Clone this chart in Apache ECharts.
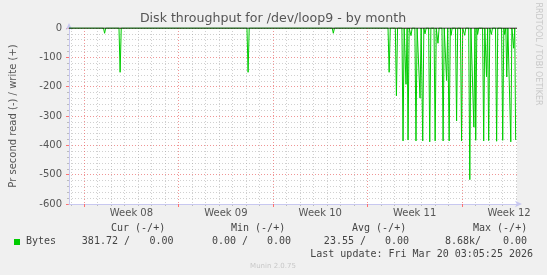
<!DOCTYPE html>
<html><head><meta charset="utf-8">
<script src="https://cdn.jsdelivr.net/npm/echarts@6/dist/echarts.min.js"></script>
<style>html,body{margin:0;padding:0;background:#f0f0f0}#c{width:547px;height:275px}</style>
</head><body><div id="c"></div>
<script>
// ---- chart data (x in days relative to Mon Feb 16 2026 00:00) ----
const titleText = 'Disk throughput for /dev/loop9 - by month';
const yAxisName = 'Pr second read (-) / write (+)';
const watermark = 'RRDTOOL / TOBI OETIKER';
const xMinDay = -1.13;
const xMaxDay = 32.09;
const weekStarts = [0, 7, 14, 21, 28];
const weekLabelPos = [3.5, 10.5, 17.5, 24.5, 31.5];
const weekNames = ['Week 08', 'Week 09', 'Week 10', 'Week 11', 'Week 12'];
const dayLines = [-1, 1, 2, 3, 4, 5, 6, 8, 9, 10, 11, 12, 13, 15, 16, 17, 18, 19, 20, 22, 23, 24, 25, 26, 27, 29, 30, 31, 32];
const yMin = -600, yMax = 0, yStep = 100;
const sampleDays = 2 / 24; // 2-hour resolution
const spikeDays = [1.51, 2.66, 12.15, 18.47, 22.61, 23.15, 23.64, 23.86, 24.01, 24.23, 24.60, 24.90, 25.10, 25.27,
  25.62, 26.02, 26.23, 26.61, 26.87, 27.06, 27.20, 27.61, 27.98, 28.21, 28.59, 28.89, 29.03, 29.17,
  29.62, 29.83, 29.99, 30.19, 30.58, 31.03, 31.18, 31.33, 31.63, 31.84, 31.99];
const spikeValues = [-18, -151, -151, -18, -151, -231, -385, -192, -382, -26, -385, -239, -385, -20,
  -388, -385, -52, -385, -179, -385, -25, -317, -385, -25, -517, -338, -383, -22,
  -385, -166, -384, -22, -386, -383, -22, -167, -388, -69, -381.72];
const legendHeaders = ['Cur (-/+)', 'Min (-/+)', 'Avg (-/+)', 'Max (-/+)'];
const legendName = 'Bytes';
const legendRead = ['381.72 /', '0.00 /', '23.55 /', '8.68k/'];
const legendWrite = ['0.00', '0.00', '0.00', '0.00'];
const lastUpdate = 'Last update: Fri Mar 20 03:05:25 2026';
const version = 'Munin 2.0.75';

// ---- build series data ----
const readData = [[xMinDay, 0]];
spikeDays.forEach((d, i) => {
  readData.push([d - sampleDays, 0]);
  readData.push([d, spikeValues[i]]);
  if (i < spikeDays.length - 1) readData.push([d + sampleDays, 0]);
});
const zeroData = [[xMinDay, 0], [xMaxDay, 0]];

const axisFont = 'DejaVu Sans';
const mono = '"DejaVu Sans Mono", monospace';
const gridLeft = 67, gridTop = 28, gridRight = 30, gridBottom = 71;

const headerX = [111, 231, 352, 473];
const readRight = [130, 248, 366, 481];
const writeRight = [173.5, 291, 409, 527];
const graphics = [
  { type: 'text', x: 273, y: 19, style: { text: titleText, fill: '#555', font: '12.6px "DejaVu Sans"', textAlign: 'center', textVerticalAlign: 'middle', verticalAlign: 'middle' } },
  { type: 'text', x: 538, y: 54, rotation: -Math.PI / 2, style: { text: watermark, fill: '#c8c8c8', font: '8px "DejaVu Sans"', textAlign: 'center', textVerticalAlign: 'middle', verticalAlign: 'middle' } },
  { type: 'rect', shape: { x: 14, y: 239, width: 6, height: 6 }, style: { fill: '#00cc00' } },
  { type: 'text', x: 26, y: 241.5, style: { text: legendName, fill: '#444', font: '10px ' + mono, textAlign: 'left', textVerticalAlign: 'middle', verticalAlign: 'middle' } },
  { type: 'text', x: 533, y: 254, style: { text: lastUpdate, fill: '#444', font: '10px ' + mono, textAlign: 'right', textVerticalAlign: 'middle', verticalAlign: 'middle' } },
  { type: 'text', x: 273, y: 266.5, style: { text: version, fill: '#c8c8c8', font: '7px "DejaVu Sans"', textAlign: 'center', textVerticalAlign: 'middle', verticalAlign: 'middle' } }
];
legendHeaders.forEach((h, i) => {
  graphics.push({ type: 'text', x: headerX[i], y: 228, style: { text: h, fill: '#444', font: '10px ' + mono, textAlign: 'left', textVerticalAlign: 'middle', verticalAlign: 'middle' } });
  graphics.push({ type: 'text', x: readRight[i], y: 241.5, style: { text: legendRead[i], fill: '#444', font: '10px ' + mono, textAlign: 'right', textVerticalAlign: 'middle', verticalAlign: 'middle' } });
  graphics.push({ type: 'text', x: writeRight[i], y: 241.5, style: { text: legendWrite[i], fill: '#444', font: '10px ' + mono, textAlign: 'right', textVerticalAlign: 'middle', verticalAlign: 'middle' } });
});

const chart = echarts.init(document.getElementById('c'), null, { renderer: 'canvas' });
chart.setOption({
  backgroundColor: '#f0f0f0',
  animation: false,
  grid: { left: gridLeft, top: gridTop, right: gridRight, bottom: gridBottom, show: true, backgroundColor: '#ffffff', borderWidth: 0 },
  xAxis: [
    {
      type: 'value', min: xMinDay, max: xMaxDay, position: 'bottom', z: 3,
      axisLine: { show: true, onZero: false, lineStyle: { color: '#c8c8f0', width: 1 }, symbol: ['none', 'arrow'], symbolSize: [5, 7], symbolOffset: [0, 5] },
      axisTick: { show: true, customValues: weekStarts, length: 3, lineStyle: { color: '#ff7070' } },
      axisLabel: { show: true, customValues: weekLabelPos, margin: 4, color: '#555', fontFamily: axisFont, fontSize: 10,
        formatter: (v) => { const i = weekLabelPos.indexOf(v); return i >= 0 ? weekNames[i] : ''; } },
      splitLine: { show: true, lineStyle: { color: 'rgba(230,80,80,0.6)', type: [1, 2], width: 1 } }
    },
    {
      type: 'value', min: xMinDay, max: xMaxDay, position: 'bottom', z: 1,
      axisLine: { show: false, onZero: false },
      axisTick: { show: true, customValues: dayLines, length: 2, lineStyle: { color: '#bbbbbb' } },
      axisLabel: { show: false },
      splitLine: { show: true, lineStyle: { color: 'rgba(150,150,150,0.45)', type: [1, 2], width: 1 } }
    }
  ],
  yAxis: {
    type: 'value', min: yMin, max: yMax, interval: yStep,
    name: yAxisName, nameLocation: 'middle', nameGap: 51, nameRotate: 90,
    nameTextStyle: { color: '#555', fontFamily: axisFont, fontSize: 10 },
    axisLine: { show: true, onZero: false, lineStyle: { color: '#c8c8f0', width: 1 }, symbol: ['none', 'arrow'], symbolSize: [5, 7], symbolOffset: [0, 5] },
    axisTick: { show: true, length: 3, lineStyle: { color: '#ff7070' } },
    minorTick: { show: true, splitNumber: 5, length: 2, lineStyle: { color: '#bbbbbb' } },
    axisLabel: { color: '#555', fontFamily: axisFont, fontSize: 10, margin: 7 },
    splitLine: { show: true, lineStyle: { color: 'rgba(230,80,80,0.6)', type: [1, 2], width: 1 } },
    minorSplitLine: { show: true, lineStyle: { color: 'rgba(150,150,150,0.45)', type: [1, 2], width: 1 } }
  },
  series: [
    { type: 'line', name: legendName, data: readData, xAxisIndex: 0, showSymbol: false, symbol: 'none',
      lineStyle: { color: '#00cc00', width: 1 }, z: 2 },
    { type: 'line', name: 'zero', data: zeroData, xAxisIndex: 0, showSymbol: false, symbol: 'none',
      lineStyle: { color: '#000000', width: 1 }, z: 4 }
  ],
  graphic: graphics
});
</script>
</body></html>
